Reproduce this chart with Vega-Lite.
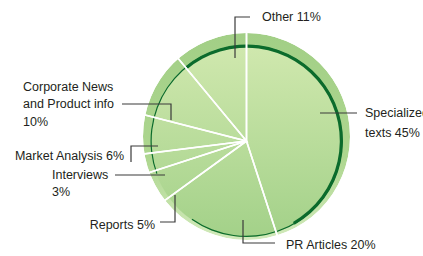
{
  "$schema": "https://vega.github.io/schema/vega-lite/v6.json",
  "width": 423,
  "height": 256,
  "autosize": {"type": "none"},
  "padding": 0,
  "background": "white",
  "config": {"view": {"stroke": null}},
  "datasets": {
    "slices": [
      {"category": "Specialized texts", "value": 45, "order": 1},
      {"category": "PR Articles", "value": 20, "order": 2},
      {"category": "Reports", "value": 5, "order": 3},
      {"category": "Interviews", "value": 3, "order": 4},
      {"category": "Market Analysis", "value": 6, "order": 5},
      {"category": "Corporate News and Product info", "value": 10, "order": 6},
      {"category": "Other", "value": 11, "order": 7}
    ],
    "thickArc": [{"start": -0.70, "end": 2.62}],
    "thinArc": [{"start": -1.92, "end": 3.75}],
    "leaders": [
      {"id": "Other", "k": 1, "x": -11.5, "y": 83},
      {"id": "Other", "k": 2, "x": -11.5, "y": 124},
      {"id": "Other", "k": 3, "x": 3.5, "y": 124},
      {"id": "Specialized", "k": 1, "x": 73.5, "y": 28},
      {"id": "Specialized", "k": 2, "x": 110.5, "y": 28},
      {"id": "PR", "k": 1, "x": -3.5, "y": -79},
      {"id": "PR", "k": 2, "x": -3.5, "y": -102},
      {"id": "PR", "k": 3, "x": 28.5, "y": -102},
      {"id": "Reports", "k": 1, "x": -71.5, "y": -54},
      {"id": "Reports", "k": 2, "x": -71.5, "y": -81},
      {"id": "Reports", "k": 3, "x": -86.5, "y": -81},
      {"id": "Interviews", "k": 1, "x": -81.5, "y": -34},
      {"id": "Interviews", "k": 2, "x": -131.5, "y": -34},
      {"id": "Market", "k": 1, "x": -88.5, "y": -5},
      {"id": "Market", "k": 2, "x": -115.5, "y": -5},
      {"id": "Market", "k": 3, "x": -115.5, "y": -21},
      {"id": "Corporate", "k": 1, "x": -75.5, "y": 21},
      {"id": "Corporate", "k": 2, "x": -75.5, "y": 37},
      {"id": "Corporate", "k": 3, "x": -124.5, "y": 37}
    ],
    "labelsLeft": [
      {"label": "Other 11%", "x": 15.5, "y": 124},
      {"label": "Specialized", "x": 118.5, "y": 28},
      {"label": "texts 45%", "x": 118.5, "y": 8},
      {"label": "PR Articles 20%", "x": 39.5, "y": -104},
      {"label": "Interviews", "x": -194.5, "y": -34},
      {"label": "3%", "x": -194.5, "y": -51},
      {"label": "Corporate News", "x": -223.5, "y": 54},
      {"label": "and Product info", "x": -223.5, "y": 37},
      {"label": "10%", "x": -223.5, "y": 19}
    ],
    "labelsRight": [
      {"label": "Reports 5%", "x": -91.5, "y": -84},
      {"label": "Market Analysis 6%", "x": -122.5, "y": -15}
    ]
  },
  "layer": [
    {
      "data": {"values": [{}]},
      "mark": {"type": "arc", "theta": 0, "theta2": 6.2832, "radius": 103.5, "color": {"gradient": "linear", "x1": 0, "y1": 0, "x2": 0, "y2": 1, "stops": [{"offset": 0, "color": "#a2cf86"}, {"offset": 0.6, "color": "#add68f"}, {"offset": 1, "color": "#d2eabb"}]}},
      "encoding": {
        "x": {"datum": 0, "type": "quantitative", "scale": {"domain": [-246.5, 176.5], "nice": false, "zero": false}, "axis": null},
        "y": {"datum": 4.5, "type": "quantitative", "scale": {"domain": [-115, 141], "nice": false, "zero": false}, "axis": null}
      }
    },
    {
      "data": {"values": [{}]},
      "mark": {"type": "arc", "theta": 0, "theta2": 6.2832, "radius": 96, "color": {"gradient": "linear", "x1": 0, "y1": 0, "x2": 0, "y2": 1, "stops": [{"offset": 0, "color": "#d0e8ae"}, {"offset": 1, "color": "#a3d189"}]}},
      "encoding": {
        "x": {"datum": 0, "type": "quantitative"},
        "y": {"datum": 0, "type": "quantitative"}
      }
    },
    {
      "data": {"name": "thinArc"},
      "mark": {"type": "arc", "radius": 96, "radius2": 94.8, "color": "#0b6b2c"},
      "encoding": {
        "x": {"datum": 0, "type": "quantitative"},
        "y": {"datum": 0, "type": "quantitative"},
        "theta": {"field": "start", "type": "quantitative", "scale": null}, "theta2": {"field": "end"}}
    },
    {
      "data": {"name": "thickArc"},
      "mark": {"type": "arc", "radius": 96.5, "radius2": 93.3, "color": "#0b6b2c"},
      "encoding": {
        "x": {"datum": 0, "type": "quantitative"},
        "y": {"datum": 0, "type": "quantitative"},
        "theta": {"field": "start", "type": "quantitative", "scale": null}, "theta2": {"field": "end"}}
    },
    {
      "data": {"name": "slices"},
      "mark": {"type": "arc", "radius": 115, "fillOpacity": 0, "fill": "white", "stroke": "white", "strokeWidth": 1.6},
      "encoding": {
        "x": {"datum": 0, "type": "quantitative"},
        "y": {"datum": 0, "type": "quantitative"},
        "theta": {"field": "value", "type": "quantitative", "stack": true},
        "order": {"field": "order", "type": "quantitative"}
      }
    },
    {
      "data": {"values": [{}]},
      "mark": {"type": "arc", "theta": 0, "theta2": 6.2832, "radius": 140, "radius2": 103.5, "color": "white"},
      "encoding": {
        "x": {"datum": 0, "type": "quantitative"},
        "y": {"datum": 4.5, "type": "quantitative"}
      }
    },
    {
      "data": {"name": "leaders"},
      "mark": {"type": "line", "color": "#3a3a3a", "strokeWidth": 1.2},
      "encoding": {
        "x": {"field": "x", "type": "quantitative"},
        "y": {"field": "y", "type": "quantitative"},
        "detail": {"field": "id"},
        "order": {"field": "k"}
      }
    },
    {
      "data": {"name": "labelsLeft"},
      "mark": {"type": "text", "align": "left", "baseline": "middle", "font": "Liberation Sans", "fontSize": 12.5, "color": "#231f20"},
      "encoding": {
        "x": {"field": "x", "type": "quantitative"},
        "y": {"field": "y", "type": "quantitative"},
        "text": {"field": "label"}
      }
    },
    {
      "data": {"name": "labelsRight"},
      "mark": {"type": "text", "align": "right", "baseline": "middle", "font": "Liberation Sans", "fontSize": 12.5, "color": "#231f20"},
      "encoding": {
        "x": {"field": "x", "type": "quantitative"},
        "y": {"field": "y", "type": "quantitative"},
        "text": {"field": "label"}
      }
    }
  ]
}
